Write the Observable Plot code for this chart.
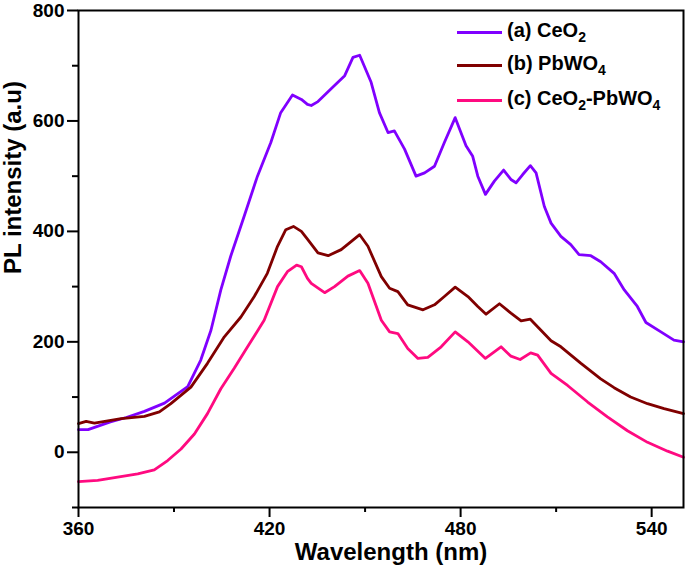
<!DOCTYPE html>
<html>
<head>
<meta charset="utf-8">
<script src="https://cdn.jsdelivr.net/npm/d3@7"></script>
<script src="https://cdn.jsdelivr.net/npm/@observablehq/plot@0.6"></script>
<style>
  body { margin: 0; background: white; }
  #wrap { position: relative; width: 685px; height: 572px; font-family: 'Liberation Sans', Arial, sans-serif; }
  .leg { position: absolute; left: 457px; font-weight: bold; font-size: 20px; color: black; }
  .leg .sw { position: absolute; left: 0; width: 45px; height: 3px; }
  .leg .tx { position: absolute; left: 50px; white-space: nowrap; line-height: 20px; }
  .leg sub { font-size: 14px; vertical-align: -5px; line-height: 0; }
</style>
</head>
<body>
<div id="wrap"></div>
<script>
const seriesNames = ["(a) CeO2", "(b) PbWO4", "(c) CeO2-PbWO4"];
const seriesLabels = ["(a) CeO<sub>2</sub>", "(b) PbWO<sub>4</sub>", "(c) CeO<sub>2</sub>-PbWO<sub>4</sub>"];
const seriesColors = ["#8000ff", "#800000", "#ff0a80"];

const ceo2X = [360,363,370,375,380.7,387,394.3,398.4,401.6,404.7,407.8,412,416.2,420.4,423.5,427.2,430,431.9,433.1,435.2,440.4,443.6,446.2,448.3,451.9,454.5,457.2,459.2,462.4,466,468.7,471.8,474.9,478.3,481.7,483.8,485.4,487.8,490.6,493.5,495.8,497.4,499.5,501.9,503.7,506.3,508.4,511.5,514.6,517.2,520.9,524,528.2,531.4,535.5,538.2,542.9,547,550];
const ceo2Y = [41,41,55,63,74,89,119,167,221,294,355,427,500,561,615,647,639,630,628,635,664,682,715,719,670,615,579,582,549,500,506,518,561,606,555,536,500,467,491,511,494,488,503,519,506,445,415,391,376,358,356,345,324,294,264,235,218,203,200];

const pbwo4X = [360,362.4,365,373.4,380.7,385.4,389,395.3,400.5,405.8,411,415.2,419.3,422.5,425.1,427.5,430,431.9,435.2,438.4,442.5,445.7,448.3,450.9,455.1,457.7,460.3,463.4,468.2,471.8,474.9,478.3,482.3,485.4,488,492.2,495.8,499,501.9,504.7,508.4,511.5,517.8,524,528.2,533.4,538.7,543.9,550];
const pbwo4Y = [52,56,53,61,65,73,88,118,161,209,245,282,324,373,403,409,400,386,361,356,367,382,394,373,318,297,291,267,258,267,282,299,282,264,250,269,252,238,241,224,202,191,161,133,117,100,88,79,70];

const compX = [360,366,372.3,378.6,383.8,388,392.2,396.4,400.5,404.7,408.9,413.1,418.3,422.5,425.6,428.5,430,431.9,433.1,437.3,440.4,444.6,448.3,450.9,455.1,457.7,460.3,463.4,466.6,469.7,473.9,478.3,482.3,487.8,492.7,495.8,498.7,502,504.2,508.4,513.6,519.9,526.1,532.4,538.7,545,550];
const compY = [-53,-51,-45,-39,-32,-15,6,33,70,115,152,191,239,300,327,339,336,315,306,289,300,319,329,306,239,218,215,188,170,172,191,218,200,170,191,174,168,180,176,143,121,91,64,39,18,2,-9];

const xDomain = [360, 550];
const yDomain = [-100, 800];
const xMajor = [360, 420, 480, 540];
const xMinor = [390, 450, 510];
const yMajor = [0, 200, 400, 600, 800];
const yMinor = [-100, 100, 300, 500, 700];
const xLabel = "Wavelength (nm)";
const yLabel = "PL intensity (a.u)";

const toRows = (xs, ys, name) => xs.map((x, i) => ({wl: x, v: ys[i], s: name}));
const rows = [
  ...toRows(ceo2X, ceo2Y, seriesNames[0]),
  ...toRows(pbwo4X, pbwo4Y, seriesNames[1]),
  ...toRows(compX, compY, seriesNames[2])
];

const chart = Plot.plot({
  width: 685,
  height: 572,
  marginLeft: 78,
  marginRight: 2,
  marginTop: 10,
  marginBottom: 65,
  style: {fontFamily: "'Liberation Sans', Arial, sans-serif", fontWeight: "bold", fontSize: "19px", background: "white", color: "black"},
  x: {domain: xDomain},
  y: {domain: yDomain},
  color: {domain: seriesNames, range: seriesColors},
  marks: [
    Plot.line(rows, {x: "wl", y: "v", z: "s", stroke: "s", strokeWidth: 2.8, curve: "linear"}),
    Plot.frame({stroke: "black", strokeWidth: 2}),
    Plot.axisX({ticks: xMajor, tickSize: 10, tickPadding: 4, strokeWidth: 2, label: null, tickFormat: d => String(d)}),
    Plot.axisX({ticks: xMinor, tickSize: 5, strokeWidth: 2, label: null, tickFormat: () => ""}),
    Plot.axisY({ticks: yMajor, tickSize: 11, tickPadding: 3, strokeWidth: 2, label: null, tickFormat: d => String(d)}),
    Plot.axisY({ticks: yMinor, tickSize: 6, strokeWidth: 2, label: null, tickFormat: () => ""}),
    Plot.text([xLabel], {text: d => d, frameAnchor: "bottom", dx: 10, dy: 52, fontSize: 24, fontWeight: "bold"}),
    Plot.text([yLabel], {text: d => d, frameAnchor: "left", rotate: -90, dx: -65, dy: 15, fontSize: 24, fontWeight: "bold"})
  ]
});

const wrap = document.getElementById("wrap");
wrap.appendChild(chart);

const legendTops = [32, 65, 100];
seriesLabels.forEach((lab, i) => {
  const d = document.createElement("div");
  d.className = "leg";
  d.style.top = legendTops[i] + "px";
  d.innerHTML = `<div class="sw" style="background:${seriesColors[i]};top:-1.5px"></div><div class="tx" style="top:-12px">${lab}</div>`;
  wrap.appendChild(d);
});
</script>
</body>
</html>
